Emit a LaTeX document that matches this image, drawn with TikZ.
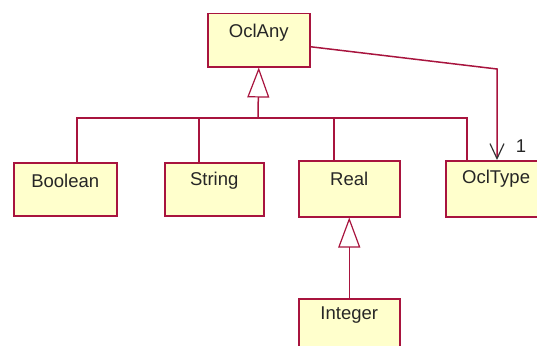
\documentclass[tikz,border=0pt]{standalone}
\usepackage{fontspec}
\setmainfont{Liberation Sans}
\usetikzlibrary{arrows.meta,calc}
\definecolor{umlline}{HTML}{A8143E}
\definecolor{umlfill}{HTML}{FFFFCC}
\begin{document}
\begin{tikzpicture}[x=1pt,y=-1pt,
  box/.style={draw=umlline, fill=umlfill, line width=1.5pt, rectangle, anchor=north west, inner sep=0pt},
  lbl/.style={font=\fontsize{18.5}{20}\selectfont, text=black!85, inner sep=0pt},
  line/.style={draw=umlline, line width=1.5pt},
  gen/.style={line, -{Triangle[open, length=30pt, width=22pt, fill=white, line width=1.2pt]}},
  assoc/.style={line, -{Straight Barb[length=15pt, width=14pt, line width=1.2pt, color=black!80]}}
]
\useasboundingbox (0,0) rectangle (537,345);
\clip (0,0) rectangle (537,345);
% classes
\node[box, minimum width=102pt, minimum height=53pt] (any) at (207,13) {};
\node[lbl] at ([yshift=-20pt]any.north) {OclAny};
\node[box, minimum width=103pt, minimum height=53pt] (bool) at (13,162) {};
\node[lbl] at ([yshift=-19pt]bool.north) {Boolean};
\node[box, minimum width=99pt, minimum height=53pt] (str) at (164,162) {};
\node[lbl] at ([yshift=-19pt]str.north) {String};
\node[box, minimum width=101pt, minimum height=56pt] (real) at (298,160) {};
\node[lbl] at ([yshift=-19pt]real.north) {Real};
\node[box, minimum width=120pt, minimum height=56pt] (type) at (445,160) {};
\node[lbl, anchor=west] at ([xshift=17pt,yshift=-19pt]type.north west) {OclType};
\node[box, minimum width=101pt, minimum height=60pt] (int) at (298,298) {};
\node[lbl] at ([yshift=-17pt]int.north) {Integer};
% generalization OclAny
\coordinate (j) at (258,118);
\coordinate (bdrop) at (77,162);
\coordinate (sdrop) at (199,162);
\coordinate (rdrop) at (334,160);
\coordinate (tdrop) at (467,160);
\draw[line] (bdrop) |- (j);
\draw[line] (sdrop) |- (j);
\draw[line] (rdrop) |- (j);
\draw[line] (tdrop) |- (j);
\draw[gen] (j) -- (any.south);
% generalization Real
\draw[gen] (int.north) -- (real.south);
% association
\coordinate (astart) at ([yshift=-6.5pt]any.east);
\coordinate (abend) at (497,69);
\coordinate (aend) at (497,160);
\draw[assoc] (astart) -- (abend) -- (aend);
\node[lbl] (mult) at (521,146) {1};
\end{tikzpicture}
\end{document}
